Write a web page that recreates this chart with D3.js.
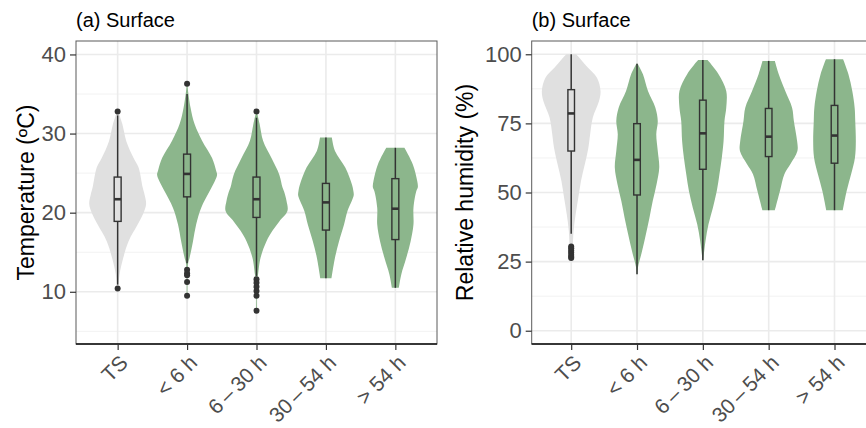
<!DOCTYPE html>
<html>
<head>
<meta charset="utf-8">
<script src="https://cdn.jsdelivr.net/npm/d3@7"></script>
<style>
body { margin: 0; background: #fff; }
text { font-family: "Liberation Sans", Arial, sans-serif; }
</style>
</head>
<body>
<div id="chart"></div>
<script>
var svgWidth = 866;
var svgHeight = 428;

var groups = ["TS", "< 6 h", "6\u2009\u2013\u200930 h", "30\u2009\u2013\u200954 h", "> 54 h"];
var fills = ["#e0e0e0", "#8cb68c", "#8cb68c", "#8cb68c", "#8cb68c"];

// Temperature: violin outlines as [value, relative width]
var tempViolin = [
    [[10.4, 0.01], [11, 0.03], [12.2, 0.06], [14.3, 0.18], [16.4, 0.35], [18.5, 0.64], [20, 0.83], [21.1, 0.91], [22.3, 0.86], [23.2, 0.8], [25.7, 0.67], [26.9, 0.51], [29, 0.28], [31.2, 0.15], [32.8, 0.02]],
    [[9.5, 0.015], [13.5, 0.03], [14.3, 0.08], [16.4, 0.19], [18.5, 0.29], [20.6, 0.45], [22.7, 0.72], [24, 0.89], [24.8, 0.96], [25.3, 0.93], [26.9, 0.8], [29.1, 0.48], [31.2, 0.24], [33.3, 0.11], [35.8, 0.02], [36.3, 0.01]],
    [[7.6, 0.015], [11.5, 0.02], [12.2, 0.05], [14.3, 0.13], [16.4, 0.32], [17.7, 0.51], [18.9, 0.73], [20.2, 0.99], [21.5, 0.96], [22.7, 0.88], [23.2, 0.83], [24.8, 0.73], [26.9, 0.48], [29.1, 0.21], [31.2, 0.1], [32.6, 0.02], [32.8, 0.01]],
    [[11.7, 0.18], [14.3, 0.29], [16.4, 0.42], [18.5, 0.58], [20.2, 0.69], [21.5, 0.83], [22.2, 0.89], [22.7, 0.88], [23.6, 0.83], [25.7, 0.62], [27.8, 0.29], [29.5, 0.19]],
    [[10.5, 0.11], [12.2, 0.19], [14.3, 0.35], [16.4, 0.49], [18.5, 0.58], [20.6, 0.58], [22.7, 0.67], [23.2, 0.72], [24, 0.7], [26.1, 0.56], [28.2, 0.29]]
];
var tempQ1 = [18.9, 22.0, 19.4, 17.8, 16.6];
var tempMedian = [21.7, 24.9, 21.7, 21.3, 20.5];
var tempQ3 = [24.5, 27.4, 24.5, 23.7, 24.3];
var tempLow = [10.9, 13.6, 12.0, 11.7, 10.5];
var tempHigh = [32.3, 35.0, 32.0, 29.5, 28.2];
var tempOutliers = [
    [10.4, 32.8],
    [36.3, 12.8, 12.35, 12.1, 11.25, 9.5],
    [32.8, 11.6, 11.15, 10.65, 10.1, 9.5, 7.6],
    [],
    []
];

// Relative humidity
var rhViolin = [
    [[25.8, 0.01], [30, 0.05], [36.1, 0.08], [42.1, 0.15], [48.1, 0.24], [54.2, 0.33], [60.2, 0.46], [66.2, 0.58], [71.1, 0.64], [77.1, 0.73], [83.1, 0.94], [86.7, 0.99], [91.5, 0.87], [95.2, 0.56], [100, 0.17]],
    [[20.4, 0.01], [22.8, 0.03], [28.8, 0.17], [34.9, 0.3], [40.9, 0.42], [46.9, 0.53], [53, 0.66], [59, 0.75], [65, 0.7], [71.1, 0.65], [75.9, 0.7], [80.7, 0.62], [86.7, 0.37], [92.8, 0.2], [96.6, 0.02]],
    [[25.5, 0.01], [26.4, 0.02], [32.5, 0.09], [38.5, 0.19], [44.5, 0.34], [50.5, 0.47], [56.6, 0.56], [62.6, 0.64], [68.6, 0.7], [75.9, 0.73], [80.7, 0.79], [86.7, 0.79], [92.8, 0.53], [97.9, 0.16]],
    [[43.6, 0.21], [50.5, 0.38], [56.6, 0.53], [60.2, 0.73], [65, 0.97], [68.6, 0.96], [75.9, 0.85], [80.7, 0.79], [86.7, 0.56], [92.8, 0.34], [97.6, 0.21]],
    [[43.6, 0.28], [50.5, 0.41], [56.6, 0.56], [62.6, 0.69], [68.6, 0.72], [75.9, 0.7], [80.7, 0.68], [86.7, 0.6], [92.8, 0.47], [98.2, 0.29]]
];
var rhQ1 = [65.0, 49.1, 58.4, 63.0, 60.6];
var rhMedian = [78.6, 61.8, 71.4, 70.2, 70.6];
var rhQ3 = [87.2, 74.9, 83.4, 80.4, 81.5];
var rhLow = [35.1, 20.4, 25.5, 43.6, 43.6];
var rhHigh = [100, 96.6, 97.9, 97.6, 98.2];
var rhOutliers = [
    [30.5, 29.8, 29.0, 28.3, 27.5, 26.8, 26.3],
    [], [], [], []
];

var tempTicks = [10, 20, 30, 40];
var rhTicks = [0, 25, 50, 75, 100];

var svg = d3.select("#chart").append("svg")
    .attr("width", svgWidth)
    .attr("height", svgHeight);

function drawPanel(opt) {
    var x = d3.scalePoint().domain(groups).range([opt.left, opt.right]).padding(0.6);
    var y = d3.scaleLinear().domain(opt.domain).range([opt.bottom, opt.top]);
    var w = d3.scaleLinear().domain([0, 1]).range([0, x.step() * 0.45]);
    var g = svg.append("g");

    // grid lines
    g.selectAll(".minor").data(opt.minor).enter().append("line")
        .attr("x1", opt.left).attr("x2", opt.right)
        .attr("y1", d => y(d)).attr("y2", d => y(d))
        .attr("stroke", "#f2f2f2").attr("stroke-width", 1);
    g.selectAll(".major").data(opt.ticks).enter().append("line")
        .attr("x1", opt.left).attr("x2", opt.right)
        .attr("y1", d => y(d)).attr("y2", d => y(d))
        .attr("stroke", "#ebebeb").attr("stroke-width", 1.6);
    g.selectAll(".vgrid").data(groups).enter().append("line")
        .attr("x1", d => x(d)).attr("x2", d => x(d))
        .attr("y1", opt.top).attr("y2", opt.bottom)
        .attr("stroke", "#ebebeb").attr("stroke-width", 1.6);

    // violins
    groups.forEach(function(name, i) {
        var cx = x(name);
        var area = d3.area()
            .curve(d3.curveCatmullRom)
            .y(d => y(d[0]))
            .x0(d => cx - w(d[1]))
            .x1(d => cx + w(d[1]));
        g.append("path")
            .datum(opt.violin[i])
            .attr("d", area)
            .attr("fill", fills[i]);
    });

    // boxplots
    var bw = x.step() * 0.1;
    groups.forEach(function(name, i) {
        var cx = x(name);
        g.append("line")
            .attr("x1", cx).attr("x2", cx)
            .attr("y1", y(opt.low[i])).attr("y2", y(opt.high[i]))
            .attr("stroke", "#333").attr("stroke-width", 1.5);
        g.append("rect")
            .attr("x", cx - bw / 2).attr("width", bw)
            .attr("y", y(opt.q3[i])).attr("height", y(opt.q1[i]) - y(opt.q3[i]))
            .attr("fill", fills[i]).attr("stroke", "#333").attr("stroke-width", 1.4);
        g.append("line")
            .attr("x1", cx - bw / 2).attr("x2", cx + bw / 2)
            .attr("y1", y(opt.median[i])).attr("y2", y(opt.median[i]))
            .attr("stroke", "#333").attr("stroke-width", 2.6);
        g.selectAll(null).data(opt.outliers[i]).enter().append("circle")
            .attr("cx", cx).attr("cy", d => y(d))
            .attr("r", 3).attr("fill", "#333");
    });

    // panel border
    g.append("rect")
        .attr("x", opt.left).attr("y", opt.top)
        .attr("width", opt.right - opt.left).attr("height", opt.bottom - opt.top)
        .attr("fill", "none").attr("stroke", "#5a5a5a").attr("stroke-width", 1);
    g.append("line")
        .attr("x1", opt.left).attr("x2", opt.right)
        .attr("y1", opt.bottom).attr("y2", opt.bottom)
        .attr("stroke", "#111").attr("stroke-width", 1.3);

    // axes
    var yAxis = g.append("g")
        .attr("transform", `translate(${opt.left}, 0)`)
        .call(d3.axisLeft(y).tickValues(opt.ticks).tickSize(6).tickPadding(4));
    var xAxis = g.append("g")
        .attr("transform", `translate(0, ${opt.bottom})`)
        .call(d3.axisBottom(x).tickSize(6).tickPadding(4));
    [yAxis, xAxis].forEach(function(ax) {
        ax.select(".domain").remove();
        ax.selectAll(".tick line").attr("stroke", "#333").attr("stroke-width", 1.2);
        ax.selectAll("text").attr("fill", "#4d4d4d").attr("font-size", "22px")
            .attr("font-family", "Liberation Sans, Arial, sans-serif");
    });
    xAxis.selectAll("text")
        .attr("font-size", "21px")
        .attr("x", 0).attr("y", 0).attr("dy", "0.71em")
        .attr("text-anchor", "end")
        .attr("transform", "translate(0.5, 9.5) rotate(-45)");

    // titles
    g.append("text")
        .attr("x", opt.left).attr("y", 27)
        .attr("font-size", "20px").attr("fill", "#000")
        .text(opt.title);
    g.append("text")
        .attr("transform", `translate(${opt.titleX}, ${(opt.top + opt.bottom) / 2}) rotate(-90)`)
        .attr("text-anchor", "middle")
        .attr("font-size", "23px").attr("fill", "#000")
        .text(opt.yLabel);
}

drawPanel({
    left: 76, right: 437, top: 41, bottom: 344,
    domain: [3.4, 41.7], ticks: tempTicks, minor: [5, 15, 25, 35],
    violin: tempViolin, q1: tempQ1, median: tempMedian, q3: tempQ3,
    low: tempLow, high: tempHigh, outliers: tempOutliers,
    title: "(a) Surface", yLabel: "Temperature (\u00baC)", titleX: 34
});

drawPanel({
    left: 531.7, right: 874, top: 41, bottom: 344,
    domain: [-4.8, 104.8], ticks: rhTicks, minor: [12.5, 37.5, 62.5, 87.5],
    violin: rhViolin, q1: rhQ1, median: rhMedian, q3: rhQ3,
    low: rhLow, high: rhHigh, outliers: rhOutliers,
    title: "(b) Surface", yLabel: "Relative humidity (%)", titleX: 473
});
</script>
</body>
</html>
